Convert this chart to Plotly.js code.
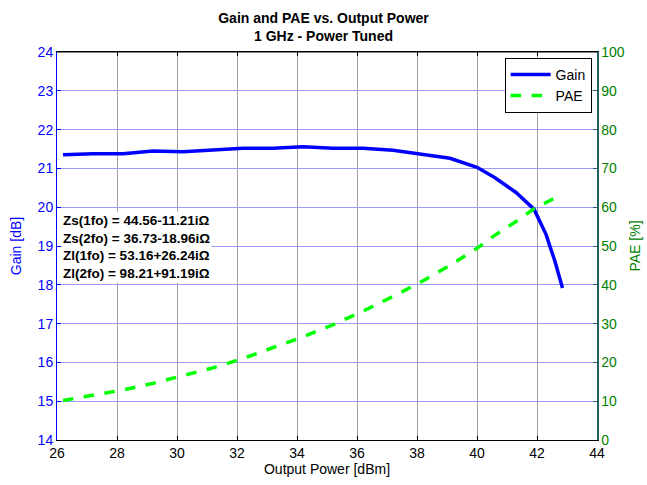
<!DOCTYPE html>
<html><head><meta charset="utf-8">
<script src="https://cdn.plot.ly/plotly-3.0.1.min.js"></script>
<style>body{margin:0;background:#fff}#plot{width:647px;height:485px}</style>
</head><body><div id="plot"></div>
<script>
const pout = [26.2, 27.2, 28.2, 29.2, 30.2, 31.2, 32.2, 33.2, 34.2, 35.2, 36.2, 37.2, 38.1, 39.1, 40.0, 40.6, 41.3, 41.9, 42.3, 42.6, 42.85];
const gain = [21.35, 21.38, 21.38, 21.45, 21.43, 21.48, 21.52, 21.52, 21.56, 21.52, 21.52, 21.47, 21.38, 21.26, 21.03, 20.76, 20.38, 19.95, 19.3, 18.6, 17.92];
const pae  = [10.2, 11.6, 12.9, 14.6, 16.5, 18.6, 21.0, 23.7, 26.6, 29.7, 33.2, 37.0, 40.6, 45.0, 49.4, 52.8, 56.3, 59.6, 61.2, 62.4, 63.4];
const impedances = ["Zs(1fo) = 44.56-11.21iΩ", "Zs(2fo) = 36.73-18.96iΩ", "Zl(1fo) = 53.16+26.24iΩ", "Zl(2fo) = 98.21+91.19iΩ"];

const font = "Arial, 'Liberation Sans', sans-serif";
const traces = [
  {x: pout, y: gain, name: "Gain", mode: "lines", line: {color: "#0000ff", width: 3.5}, yaxis: "y"},
  {x: pout, y: pae, name: "PAE", mode: "lines", line: {color: "#00ff00", width: 3.5, dash: "dash"}, yaxis: "y2"}
];
const layout = {
  width: 647, height: 485,
  margin: {l: 57, r: 50, t: 52, b: 45},
  paper_bgcolor: "#fff", plot_bgcolor: "#fff",
  font: {family: font, size: 14, color: "#000"},
  title: {text: "<b>Gain and PAE vs. Output Power<br>1 GHz - Power Tuned</b>", font: {size: 14, family: font, color: "#000"}, x: 0.5, xanchor: "center", yref: "container", y: 0.953, yanchor: "middle"},
  showlegend: true,
  legend: {x: 0.99, y: 0.985, xanchor: "right", yanchor: "top", bgcolor: "#fff", bordercolor: "#000", borderwidth: 1, font: {size: 14, family: font}, itemwidth: 40, tracegroupgap: 0},
  xaxis: {
    range: [26, 44], tickvals: [26,28,30,32,34,36,38,40,42,44], ticktext: ["26","28","30","32","34","36","38","40","42","44"],
    showgrid: true, gridcolor: "#a0a0a0", gridwidth: 1,
    ticks: "inside", ticklen: 4, tickcolor: "#000", mirror: "ticks",
    showline: true, linecolor: "#000", linewidth: 1, zeroline: false,
    tickfont: {size: 14, family: font, color: "#000"},
    title: {text: "Output Power [dBm]", font: {size: 14, family: font, color: "#000"}, standoff: 2}
  },
  yaxis: {
    range: [14, 24], tickvals: [14,15,16,17,18,19,20,21,22,23,24],
    showgrid: true, gridcolor: "#9a9aff", gridwidth: 1,
    ticks: "inside", ticklen: 4, tickcolor: "#0000ff",
    showline: true, linecolor: "#0000ff", linewidth: 1, zeroline: false,
    tickfont: {size: 14, family: font, color: "#0000ff"},
    title: {text: "Gain [dB]", font: {size: 14, family: font, color: "#0000ff"}, standoff: 12}
  },
  yaxis2: {
    range: [0, 100], tickvals: [0,10,20,30,40,50,60,70,80,90,100],
    overlaying: "y", side: "right", showgrid: false,
    ticks: "inside", ticklen: 4, tickcolor: "#1f5f5f",
    showline: true, linecolor: "#1f5f5f", linewidth: 1.5, zeroline: false,
    tickfont: {size: 14, family: font, color: "#008000"},
    title: {text: "PAE [%]", font: {size: 14, family: font, color: "#008000"}, standoff: 6}
  },
  annotations: [{
    xref: "paper", yref: "paper", x: 0.008, y: 0.59, xanchor: "left", yanchor: "top", align: "left",
    text: "<b>" + impedances.join("<br>") + "</b>", showarrow: false,
    bgcolor: "#fff", font: {size: 13.5, family: font, color: "#000"}
  }],
  shapes: [{type: "line", xref: "paper", yref: "paper", x0: 0, x1: 1, y0: 1, y1: 1, line: {color: "#000", width: 1}}]
};
Plotly.newPlot("plot", traces, layout, {displayModeBar: false, staticPlot: true});
</script></body></html>
